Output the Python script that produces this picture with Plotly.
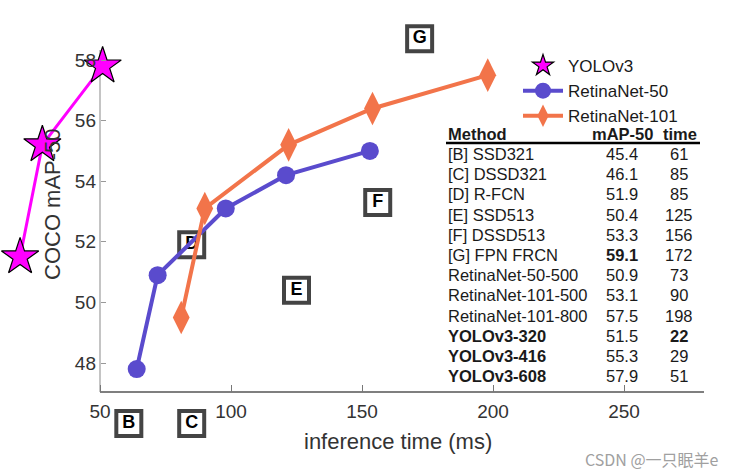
import plotly.graph_objects as go

# ---------------- data ----------------
yolo_time = [19.5, 28, 51]
yolo_map = [51.5, 55.2, 57.8]

r50_time = [64, 72, 98, 121, 153]
r50_map = [47.8, 50.9, 53.1, 54.2, 55.0]

r101_time = [81, 90, 122, 154, 198]
r101_map = [49.5, 53.1, 55.2, 56.4, 57.5]

letters = ["B", "C", "D", "E", "F", "G"]
letter_time = [61, 85, 85, 125, 156, 172]
letter_map_shown = [46.0, 46.0, 51.9, 50.4, 53.3, 58.7]  # as placed in the picture

methods = ["[B] SSD321", "[C] DSSD321", "[D] R-FCN", "[E] SSD513", "[F] DSSD513",
           "[G] FPN FRCN", "RetinaNet-50-500", "RetinaNet-101-500", "RetinaNet-101-800",
           "YOLOv3-320", "YOLOv3-416", "YOLOv3-608"]
map50 = ["45.4", "46.1", "51.9", "50.4", "53.3", "59.1", "50.9", "53.1", "57.5",
         "51.5", "55.3", "57.9"]
times = ["61", "85", "85", "125", "156", "172", "73", "90", "198", "22", "29", "51"]
bold_method = [False] * 9 + [True] * 3
bold_map = [False] * 5 + [True] + [False] * 6
bold_time = [False] * 9 + [True] + [False] * 2

xticks = [50, 100, 150, 200, 250]
yticks = [48, 50, 52, 54, 56, 58]

# ---------------- layout geometry ----------------
W, H = 734, 475
L, R, T, B = 10, 704, 20, 450          # plot area (pixels)
AX_X, AX_Y, AX_TOP = 100, 392, 50      # where the drawn axes sit (pixels)
PXMS = 2.62      # px per ms
PXMAP = 30.3     # px per mAP unit
xmin = 50 - (AX_X - L) / PXMS
xmax = 50 + (R - AX_X) / PXMS
ymin = 48 - (B - 363) / PXMAP
ymax = 58 + (60 - T) / PXMAP
y_axis_bottom = 48 - (AX_Y - 363) / PXMAP
y_axis_top = 58 + (60 - AX_TOP) / PXMAP


def px(xp):
    return (xp - L) / (R - L)


def py(yp):
    return (B - yp) / (B - T)


FONT = "Liberation Sans, Arial, Helvetica, sans-serif"
MAGENTA = "#ff00ff"
BLUE = "#5a4bcd"
ORANGE = "#f2744a"

fig = go.Figure()

# letter boxes (other methods)
fig.add_trace(go.Scatter(
    x=letter_time, y=letter_map_shown, mode="markers+text", text=letters,
    textposition="middle center",
    textfont=dict(family=FONT, size=18, color="black", weight="bold"),
    marker=dict(symbol="square", size=25, color="white",
                line=dict(color="#444444", width=4)),
    showlegend=False, cliponaxis=False, hoverinfo="skip"))

fig.add_trace(go.Scatter(
    x=yolo_time, y=yolo_map, mode="lines+markers", name="YOLOv3",
    line=dict(color=MAGENTA, width=3),
    marker=dict(symbol="star", size=28, color=MAGENTA,
                line=dict(color="black", width=1.2)),
    showlegend=False, cliponaxis=False))

fig.add_trace(go.Scatter(
    x=[None], y=[None], mode="markers", name="YOLOv3",
    marker=dict(symbol="star", size=28, color=MAGENTA,
                line=dict(color="black", width=1.2))))

fig.add_trace(go.Scatter(
    x=r50_time, y=r50_map, mode="lines+markers", name="RetinaNet-50",
    line=dict(color=BLUE, width=4),
    marker=dict(symbol="circle", size=18, color=BLUE),
    cliponaxis=False))

fig.add_trace(go.Scatter(
    x=r101_time, y=r101_map, mode="lines+markers", name="RetinaNet-101",
    line=dict(color=ORANGE, width=4),
    marker=dict(symbol="diamond-tall", size=24, color=ORANGE),
    cliponaxis=False))

annotations = []
# axis titles
annotations.append(dict(text="inference time (ms)", x=px(398), y=py(441), xref="paper",
                        yref="paper", showarrow=False, xanchor="center", yanchor="middle",
                        font=dict(family=FONT, size=22, color="#333333")))
annotations.append(dict(text="COCO mAP-50", x=px(52), y=py(204), xref="paper",
                        yref="paper", showarrow=False, textangle=-90, xanchor="center",
                        yanchor="middle", font=dict(family=FONT, size=22, color="#333333")))

# table
TF = 16.5
def tab(text, x, y, anchor, bold=False):
    t = "<b>%s</b>" % text if bold else text
    annotations.append(dict(text=t, x=px(x), y=py(y), xref="paper", yref="paper",
                            showarrow=False, xanchor=anchor, yanchor="middle",
                            font=dict(family=FONT, size=TF, color="#1a1a1a")))

tab("Method", 446, 134, "left", True)
tab("mAP-50", 622, 134, "center", True)
tab("time", 680, 134, "center", True)
for i, m in enumerate(methods):
    yy = 154 + i * 20.2
    tab(m, 446, yy, "left", bold_method[i])
    tab(map50[i], 622, yy, "center", bold_map[i])
    tab(times[i], 679, yy, "center", bold_time[i])

# watermark
annotations.append(dict(text="CSDN @一只眠羊e", x=px(721), y=py(459), xref="paper",
                        yref="paper", showarrow=False, xanchor="right", yanchor="middle",
                        font=dict(family="Noto Sans CJK SC, sans-serif", size=16,
                                  color="#a0a0a0")))

shapes = [
    # x axis line (starts at the y axis)
    dict(type="line", xref="x", yref="y", x0=50, x1=xmax, y0=y_axis_bottom,
         y1=y_axis_bottom, line=dict(color="#555555", width=1.5), layer="below"),
    # y axis line
    dict(type="line", xref="x", yref="y", x0=50, x1=50, y0=y_axis_bottom,
         y1=y_axis_top, line=dict(color="#b0b0b0", width=1.5), layer="below"),
    # table header rule
    dict(type="line", xref="paper", yref="paper", x0=px(446), x1=px(700),
         y0=py(143), y1=py(143), line=dict(color="black", width=2.5)),
]

fig.update_layout(
    width=W, height=H,
    margin=dict(l=L, r=W - R, t=T, b=H - B, pad=0),
    paper_bgcolor="white", plot_bgcolor="white",
    font=dict(family=FONT, color="#333333"),
    xaxis=dict(range=[xmin, xmax], tickvals=xticks, ticks="inside", ticklen=7,
               tickcolor="#777777", showline=False, showgrid=False, zeroline=False,
               anchor="free", position=py(AX_Y),
               tickfont=dict(size=19, color="#333333"), ticklabelstandoff=6),
    yaxis=dict(range=[ymin, ymax], tickvals=yticks, ticks="inside", ticklen=5,
               tickcolor="#999999", showline=False,
               anchor="free", position=px(AX_X), showgrid=False,
               zeroline=False, tickfont=dict(size=19, color="#333333"),
               ticklabelstandoff=4),
    legend=dict(x=px(518), y=py(48), xanchor="left", yanchor="top",
                font=dict(size=17, color="#1a1a1a"), bgcolor="rgba(0,0,0,0)",
                itemwidth=40, tracegroupgap=0),
    annotations=annotations, shapes=shapes,
)

fig.write_html("out.html")
